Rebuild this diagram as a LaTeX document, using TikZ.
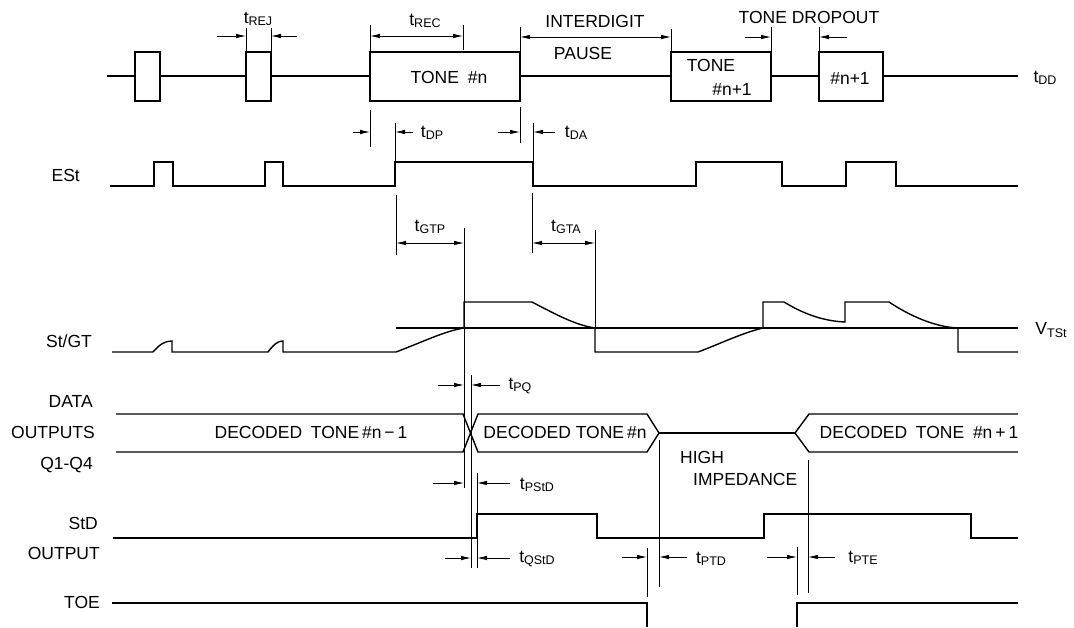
\documentclass[tikz,border=0pt]{standalone}
\usepackage{fontspec}
\setmainfont{Liberation Sans}
\usetikzlibrary{arrows.meta}
\newcommand{\tm}[2]{#1\raisebox{-2.5pt}{\fontsize{12.5}{13}\selectfont #2}}

\begin{document}
\begin{tikzpicture}[x=1pt, y=-1pt,
  sig/.style={line width=1.4pt},
  dim/.style={line width=0.8pt},
  dimarr/.style={line width=0.8pt, -{Latex[length=10pt,width=4.5pt]}},
  dimboth/.style={line width=0.8pt, {Latex[length=10pt,width=4.5pt]}-{Latex[length=10pt,width=4.5pt]}},
  every node/.style={inner sep=0pt, font=\fontsize{17.5}{20}\selectfont}]
\useasboundingbox (0,0) rectangle (1074,627);

\draw[sig] (107,76) -- (135,76) (160,76) -- (246,76) (271,76) -- (370,76) (520,76) -- (671,76) (771,76) -- (819,76) (883,76) -- (1018,76);
\foreach \a/\b in {135/160, 246/271, 370/520, 671/771, 819/883}
    \draw[sig] (\a,52) rectangle (\b,101);
\node (tonen) at (449,77) {TONE\enspace\#n};
\node (tonea) at (711,65) {TONE};
\node (toneb) at (732,89) {\#n+1};
\node (tonec) at (850,78) {\#n+1};
\node (tdd) at (1045,78) {\tm{t}{DD}};

\draw[sig] (110,186) \foreach \a/\b in {154/173, 265/283, 395/533, 696/782, 846/896} { -- (\a,186) -- (\a,162) -- (\b,162) -- (\b,186) } -- (1018,186);

\draw[sig] (396,328) -- (1018,328);
\draw[sig] (112,352) -- (153,352) .. controls (160,344) and (165,341) .. (172,341) -- (172,352) -- (268,352) .. controls (274,344) and (278,341) .. (283,341) -- (283,352) -- (396,352) .. controls (425,341) and (445,331) .. (464,328) -- (464,302) -- (532,302) .. controls (555,314) and (575,325) .. (595,328) -- (595,352) -- (698,352) .. controls (722,343) and (742,333) .. (763,328) -- (763,302) -- (784,302) .. controls (802,313) and (822,321) .. (845,322) -- (845,302) -- (889,302) .. controls (910,316) and (935,327) .. (958,328) -- (958,352) -- (1018,352);
\node (vtst) at (1051,330) {\tm{V}{TSt}};

\draw[sig] (116,414) -- (463,414) -- (478,452) -- (647,452) -- (659,433) -- (647,414) -- (478,414) -- (463,452) -- (116,452);
\draw[sig] (659,433) -- (795,433);
\draw[sig] (1018,414) -- (809,414) -- (795,433) -- (809,452) -- (1018,452);
\node (dec1) at (311,432) {DECODED\enspace TONE\,\#n\,−\,1};
\node (dec2) at (565,432) {DECODED TONE\,\#n};
\node (dec3) at (919,432) {DECODED\enspace TONE\enspace \#n\,+\,1};
\node[anchor=west] (high) at (680,457) {HIGH};
\node[anchor=west] (imp) at (693,479) {IMPEDANCE};

\draw[sig] (113,538) \foreach \a/\b in {477/597, 764/971} { -- (\a,538) -- (\a,514) -- (\b,514) -- (\b,538) } -- (1018,538);
\draw[sig] (112,603) -- (647,603) -- (647,627) (797,627) -- (797,603) -- (1018,603);

\node[anchor=east] (est) at (80,175) {ESt};
\node[anchor=east] (stgt) at (92,341) {St/GT};
\node[anchor=east] (data) at (93,401) {DATA};
\node[anchor=east] (outs) at (95,432) {OUTPUTS};
\node[anchor=east] (qq) at (93,465) {Q1-Q4};
\node[anchor=east] (std) at (98,523) {StD};
\node[anchor=east] (out) at (100,553) {OUTPUT};
\node[anchor=east] (toe) at (100,602) {TOE};

\draw[dim] (246,28) -- (246,52) (271,28) -- (271,52);
\draw[dimarr] (217,36) -- (246,36);
\draw[dimarr] (297,36) -- (271,36);
\node (trej) at (258,19) {\tm{t}{REJ}};

\draw[dim] (370,25) -- (370,52) (463,25) -- (463,50);
\draw[dimboth] (370,36) -- (463,36);
\node (trec) at (425,21) {\tm{t}{REC}};

\draw[dim] (520,27) -- (520,52) (671,29) -- (671,52);
\draw[dimboth] (520,37) -- (671,37);
\node (inter) at (595,21) {INTERDIGIT};
\node (pause) at (583,53) {PAUSE};

\draw[dim] (771,27) -- (771,52) (819,27) -- (819,52);
\draw[dimarr] (745,37) -- (771,37);
\draw[dimarr] (847,37) -- (819,37);
\node (drop) at (809,17) {TONE DROPOUT};

\draw[dim] (370,110) -- (370,147) (395,123) -- (395,162);
\draw[dimarr] (353,132) -- (370,132);
\draw[dimarr] (413,132) -- (395,132);
\node (tdp) at (432,133) {\tm{t}{DP}};

\draw[dim] (520,107) -- (520,143) (533,123) -- (533,162);
\draw[dimarr] (498,132) -- (520,132);
\draw[dimarr] (555,132) -- (533,132);
\node (tda) at (576,133) {\tm{t}{DA}};

\draw[dim] (396,195) -- (396,255) (464,228) -- (464,488);
\draw[dimboth] (396,243) -- (464,243);
\node (tgtp) at (430,227) {\tm{t}{GTP}};

\draw[dim] (532,193) -- (532,253) (595,230) -- (595,328);
\draw[dimboth] (532,243) -- (595,243);
\node (tgta) at (566,227) {\tm{t}{GTA}};

\draw[dim] (471,375) -- (471,568) (477,473) -- (477,568);
\draw[dimarr] (438,385) -- (464,385);
\draw[dimarr] (500,385) -- (471,385);
\node (tpq) at (520,386) {\tm{t}{PQ}};
\draw[dimarr] (433,483) -- (464,483);
\draw[dimarr] (510,483) -- (477,483);
\node (tpstd) at (537,485) {\tm{t}{PStD}};
\draw[dimarr] (445,558) -- (471,558);
\draw[dimarr] (510,558) -- (477,558);
\node (tqstd) at (537,559) {\tm{t}{QStD}};

\draw[dim] (659,440) -- (659,587) (647,548) -- (647,597);
\draw[dimarr] (622,557) -- (647,557);
\draw[dimarr] (687,557) -- (659,557);
\node (tptd) at (711,559) {\tm{t}{PTD}};

\draw[dim] (797,547) -- (797,595) (808,460) -- (808,593);
\draw[dimarr] (767,557) -- (797,557);
\draw[dimarr] (835,557) -- (808,557);
\node (tpte) at (863,558) {\tm{t}{PTE}};
\end{tikzpicture}
\end{document}
